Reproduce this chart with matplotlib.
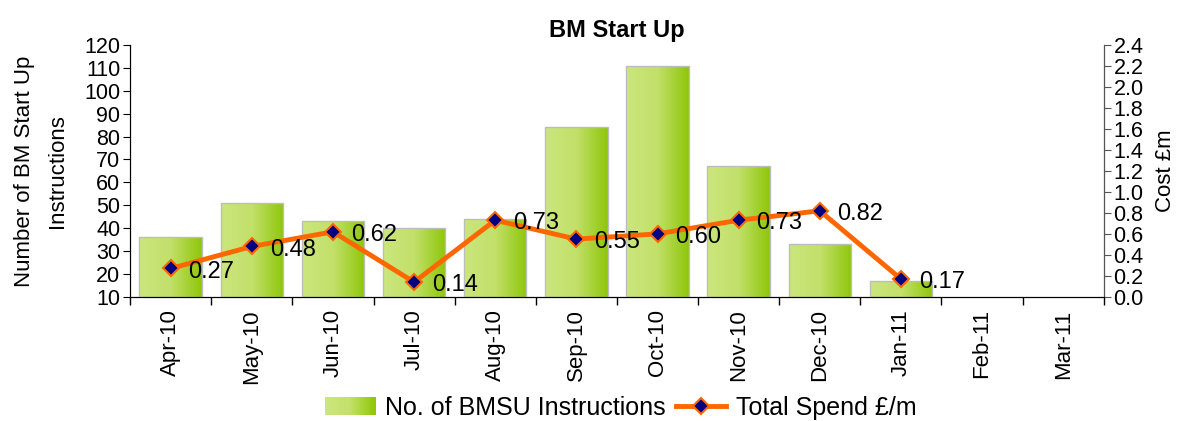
import numpy as np
import matplotlib
matplotlib.use('Agg')
from matplotlib import pyplot as plt
from matplotlib.legend_handler import HandlerBase
from matplotlib.patches import Rectangle
from matplotlib.lines import Line2D
from matplotlib.colors import LinearSegmentedColormap

months = ['Apr-10', 'May-10', 'Jun-10', 'Jul-10', 'Aug-10', 'Sep-10',
          'Oct-10', 'Nov-10', 'Dec-10', 'Jan-11', 'Feb-11', 'Mar-11']
instructions = [36, 51, 43, 40, 44, 84, 111, 67, 33, 17]
spend = [0.27, 0.48, 0.62, 0.14, 0.73, 0.55, 0.60, 0.73, 0.82, 0.17]

plt.rcParams['font.family'] = ['Liberation Sans', 'DejaVu Sans']

green = LinearSegmentedColormap.from_list('grn', ['#cbe67c', '#c2e06a', '#8fc70a'])
grad = np.linspace(0, 1, 64).reshape(1, -1)


class HandlerGradient(HandlerBase):
    def create_artists(self, legend, orig_handle, xdescent, ydescent,
                       width, height, fontsize, trans):
        n = 30
        out = []
        for i in range(n):
            r = Rectangle((-xdescent + i * width / n, -ydescent), width / n + 0.3, height,
                          facecolor=green(i / (n - 1)), edgecolor='none', transform=trans)
            out.append(r)
        return out


fig = plt.figure(figsize=(11.83, 4.21), dpi=100)
ax = fig.add_axes([0.11, 0.295, 0.823, 0.598])
x = np.arange(len(months))
bars = ax.bar(x[:len(instructions)], [v - 10 for v in instructions], bottom=10, width=0.77,
              facecolor='none', edgecolor='#bdbdbd', linewidth=1, zorder=3)
for b in bars:
    x0, y0 = b.get_x(), b.get_y()
    im = ax.imshow(grad, cmap=green, aspect='auto', zorder=2,
                   extent=[x0, x0 + b.get_width(), y0, y0 + b.get_height()])
    im.set_clip_path(b)

ax.set_xlim(-0.5, len(months) - 0.5)
ax.set_ylim(10, 120)
ax.set_yticks(range(10, 121, 10))
ax.set_xticks(x)
ax.set_xticklabels(months, rotation=90, fontsize=16)
ax.set_xticks(np.arange(-0.5, len(months), 1), minor=True)
ax.tick_params(axis='x', which='major', length=0, pad=9)
ax.tick_params(axis='x', which='minor', length=6, width=1)
ax.tick_params(axis='y', labelsize=15.5, length=5, pad=2)
ax.spines['top'].set_visible(False)
ax.set_ylabel('Number of BM Start Up\nInstructions', fontsize=16, labelpad=12,
              linespacing=1.7)

ax2 = ax.twinx()
ax2.plot(x[:len(spend)], spend, color='#ff6600', linewidth=3.5, marker='D', markersize=8,
         markerfacecolor='#000080', markeredgecolor='#ff6600', markeredgewidth=1.5, zorder=5)
for xi, v in zip(x, spend):
    ax2.text(xi + 0.22, v - 0.03, f'{v:.2f}', fontsize=17, va='center', ha='left', zorder=6)
ax2.set_ylim(0, 2.4)
ax2.set_yticks(np.arange(0, 2.41, 0.2))
ax2.set_yticklabels([f'{t:.1f}' for t in np.arange(0, 2.41, 0.2)])
ax2.tick_params(axis='y', labelsize=15.5, length=5, pad=2, color='#555555')
ax2.spines['top'].set_visible(False)
ax2.spines['right'].set_color('#555555')
ax2.set_ylabel('Cost £m', fontsize=16, labelpad=8)
ax2.set_xlim(-0.5, len(months) - 0.5)

ax.set_title('BM Start Up', fontsize=17, fontweight='bold', pad=6)

bar_handle = Rectangle((0, 0), 1, 1)
line_handle = Line2D([], [], color='#ff6600', linewidth=3.5, marker='D', markersize=8,
                     markerfacecolor='#000080', markeredgecolor='#ff6600', markeredgewidth=1.5)
fig.legend([bar_handle, line_handle], ['No. of BMSU Instructions', 'Total Spend £/m'],
           handler_map={Rectangle: HandlerGradient()},
           loc='lower center', bbox_to_anchor=(0.525, -0.05), ncol=2, frameon=False,
           fontsize=18, handlelength=2.0, handletextpad=0.4, columnspacing=0.4)

fig.savefig('out.png', dpi=100)
